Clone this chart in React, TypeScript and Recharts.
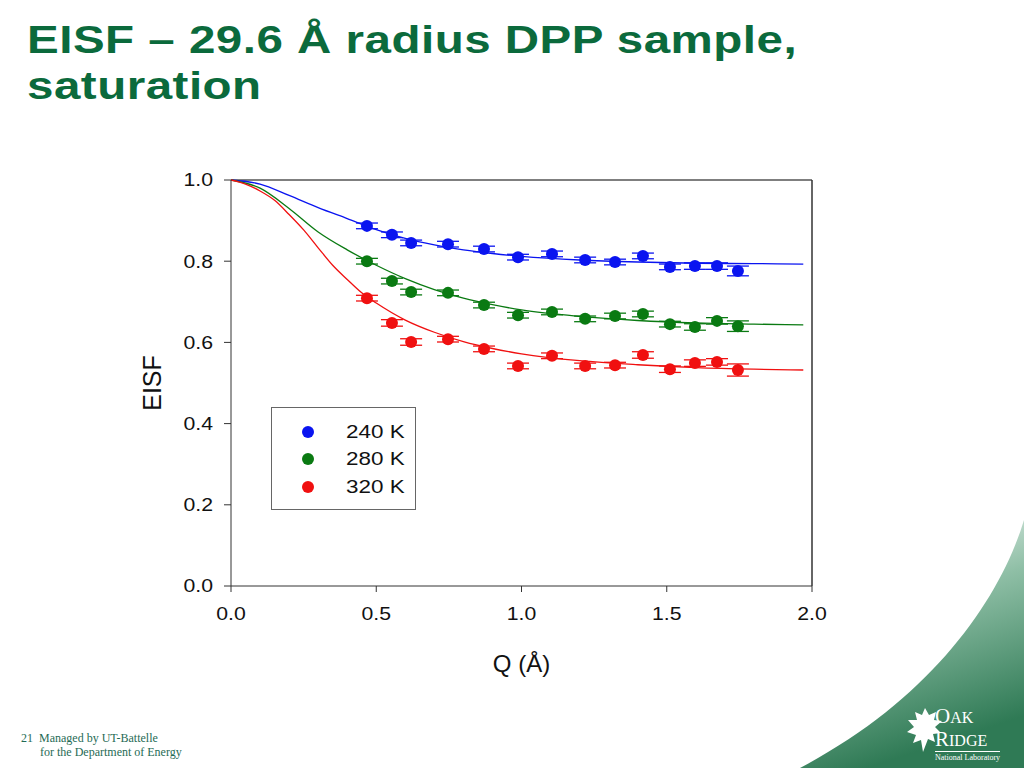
import React from "react";
import {
  ComposedChart,
  Line,
  Scatter,
  XAxis,
  YAxis,
  ErrorBar,
  ReferenceLine,
  Label,
} from "recharts";

const qValues = [0.468, 0.554, 0.62, 0.747, 0.871, 0.988, 1.105, 1.219, 1.322, 1.418, 1.511, 1.597, 1.673, 1.745];

const eisf240 = [0.887, 0.865, 0.845, 0.842, 0.83, 0.81, 0.818, 0.803, 0.798, 0.813, 0.786, 0.788, 0.788, 0.776];
const err240 = [0.007, 0.007, 0.007, 0.007, 0.007, 0.007, 0.007, 0.007, 0.007, 0.007, 0.007, 0.008, 0.008, 0.012];
const eisf280 = [0.8, 0.751, 0.724, 0.722, 0.692, 0.667, 0.675, 0.658, 0.665, 0.67, 0.645, 0.638, 0.653, 0.64];
const err280 = [0.007, 0.007, 0.007, 0.007, 0.007, 0.007, 0.007, 0.007, 0.007, 0.007, 0.007, 0.008, 0.008, 0.013];
const eisf320 = [0.709, 0.648, 0.601, 0.608, 0.584, 0.542, 0.567, 0.542, 0.544, 0.569, 0.534, 0.549, 0.552, 0.532];
const err320 = [0.007, 0.008, 0.008, 0.007, 0.007, 0.007, 0.007, 0.007, 0.007, 0.008, 0.008, 0.008, 0.008, 0.015];

const fitQ240 = [0, 0.1, 0.2, 0.3, 0.4, 0.5, 0.6, 0.7, 0.8, 0.9, 1.0, 1.2, 1.4, 1.6, 1.8, 1.97];
const fit240 = [1.0, 0.99, 0.962, 0.932, 0.905, 0.878, 0.856, 0.84, 0.828, 0.819, 0.812, 0.803, 0.798, 0.795, 0.794, 0.793];
const fitQ280 = [0, 0.1, 0.2, 0.3, 0.4, 0.5, 0.6, 0.7, 0.8, 0.9, 1.0, 1.2, 1.4, 1.6, 1.8, 1.97];
const fit280 = [1.0, 0.98, 0.93, 0.872, 0.828, 0.79, 0.757, 0.73, 0.709, 0.693, 0.68, 0.664, 0.654, 0.648, 0.645, 0.643];
const fitQ320 = [0, 0.05, 0.1, 0.15, 0.2, 0.25, 0.3, 0.35, 0.4, 0.45, 0.5, 0.6, 0.7, 0.8, 0.9, 1.0, 1.2, 1.4, 1.6, 1.8, 1.97];
const fit320 = [1.0, 0.99, 0.973, 0.95, 0.915, 0.877, 0.833, 0.79, 0.755, 0.722, 0.697, 0.655, 0.625, 0.602, 0.585, 0.572, 0.555, 0.545, 0.538, 0.534, 0.532];

const xTicks = [0, 0.5, 1.0, 1.5, 2.0];
const yTicks = [0, 0.2, 0.4, 0.6, 0.8, 1.0];

const seriesNames = ["240 K", "280 K", "320 K"];
const seriesColors = ["#0a14f0", "#0a7a12", "#f01010"];

const toPoints = (xs: number[], ys: number[], es?: number[]) =>
  xs.map((x, i) => ({ q: x, v: ys[i], err: es ? es[i] : 0 }));

const scatterSets = [
  toPoints(qValues, eisf240, err240),
  toPoints(qValues, eisf280, err280),
  toPoints(qValues, eisf320, err320),
];
const fitSets = [
  toPoints(fitQ240, fit240),
  toPoints(fitQ280, fit280),
  toPoints(fitQ320, fit320),
];

const FONT = "Liberation Sans, Arial, sans-serif";
const STRETCH = 1.18;

const XTick = (props: any) => {
  const { x, y, payload } = props;
  return (
    <text
      transform={`translate(${x},${y}) scale(${STRETCH},1)`}
      textAnchor="middle"
      dy="0.71em"
      fontFamily={FONT}
      fontSize={18}
      fill="#111"
    >
      {Number(payload.value).toFixed(1)}
    </text>
  );
};

const YTick = (props: any) => {
  const { x, y, payload } = props;
  return (
    <text
      transform={`translate(${x},${y}) scale(${STRETCH},1)`}
      textAnchor="end"
      dy="0.355em"
      fontFamily={FONT}
      fontSize={18}
      fill="#111"
    >
      {Number(payload.value).toFixed(1)}
    </text>
  );
};

const LegendBox = () => (
  <div
    style={{
      position: "absolute",
      left: 271,
      top: 407,
      width: 145,
      height: 103,
      border: "1.5px solid #666",
      background: "#fff",
      boxSizing: "border-box",
      fontFamily: FONT,
      fontSize: 19,
      color: "#111",
      paddingTop: 10,
    }}
  >
    {seriesNames.map((n, i) => (
      <div key={n} style={{ display: "flex", alignItems: "center", height: 27.5 }}>
        <span
          style={{
            display: "inline-block",
            width: 12,
            height: 12,
            borderRadius: 6,
            background: seriesColors[i],
            marginLeft: 30,
            marginRight: 32,
          }}
        />
        <span style={{ display: "inline-block", transform: `scaleX(${STRETCH})`, transformOrigin: "left center" }}>{n}</span>
      </div>
    ))}
  </div>
);

export default function App() {
  return (
    <div style={{ position: "absolute", left: 0, top: 0, width: 1024, height: 768, background: "#fff", overflow: "hidden" }}>
      <svg width={1024} height={768} style={{ position: "absolute", left: 0, top: 0 }}>
        <defs>
          <linearGradient id="swoosh" x1="0" y1="0" x2="0.3" y2="1">
            <stop offset="0" stopColor="#ffffff" />
            <stop offset="0.45" stopColor="#8fbfa6" />
            <stop offset="1" stopColor="#2f7a55" />
          </linearGradient>
        </defs>
        <path d="M 1024 520 C 1000 600, 930 700, 800 768 L 1024 768 Z" fill="url(#swoosh)" />
      </svg>
      <div
        style={{
          position: "absolute",
          left: 27,
          top: 17,
          fontFamily: FONT,
          fontWeight: "bold",
          fontSize: 38,
          lineHeight: "46px",
          color: "#0b6a3c",
          letterSpacing: 0.4,
          transform: "scaleX(1.25)",
          transformOrigin: "left top",
          whiteSpace: "nowrap",
        }}
      >
        EISF – 29.6 Å radius DPP sample,
        <br />
        saturation
      </div>
      <div style={{ position: "absolute", left: 0, top: 0 }}>
        <ComposedChart
          width={1024}
          height={768}
          margin={{ top: 180, right: 212, bottom: 94, left: 131 }}
        >
          <XAxis
            type="number"
            dataKey="q"
            domain={[0, 2]}
            ticks={xTicks}
            tick={<XTick />}
            stroke="#333"
            tickSize={6}
            tickMargin={15}
            height={88}
            allowDuplicatedCategory={false}
          >
            <Label
              value="Q (Å)"
              position="insideBottom"
              offset={2}
              style={{ fontFamily: FONT, fontSize: 24, fill: "#111" }}
            />
          </XAxis>
          <YAxis
            type="number"
            dataKey="v"
            domain={[0, 1]}
            ticks={yTicks}
            tick={<YTick />}
            stroke="#333"
            tickSize={7}
            tickMargin={11}
            width={100}
          >
            <Label
              value="EISF"
              angle={-90}
              position="insideLeft"
              offset={21}
              style={{ fontFamily: FONT, fontSize: 25, fill: "#111", textAnchor: "middle" }}
            />
          </YAxis>
          <ReferenceLine y={1} stroke="#555" strokeWidth={1.5} />
          <ReferenceLine x={2} stroke="#333" strokeWidth={1.5} />
          {fitSets.map((d, i) => (
            <Line
              key={"fit" + i}
              data={d}
              dataKey="v"
              type="monotone"
              stroke={seriesColors[i]}
              strokeWidth={1.3}
              dot={false}
              activeDot={false}
              legendType="none"
              isAnimationActive={false}
            />
          ))}
          {scatterSets.map((d, i) => (
            <Scatter
              key={"pts" + i}
              name={seriesNames[i]}
              data={d}
              dataKey="v"
              fill={seriesColors[i]}
              shape={(props: any) => <circle cx={props.cx} cy={props.cy} r={6} fill={seriesColors[i]} />}
              isAnimationActive={false}
            >
              <ErrorBar dataKey="err" direction="y" width={11} stroke={seriesColors[i]} strokeWidth={1.3} />
            </Scatter>
          ))}
        </ComposedChart>
      </div>
      <LegendBox />
      <div
        style={{
          position: "absolute",
          left: 21,
          top: 731,
          fontFamily: "Liberation Serif, Times New Roman, serif",
          fontSize: 12,
          lineHeight: "14px",
          color: "#1f6b55",
        }}
      >
        <div>
          21&nbsp;&nbsp;Managed by UT-Battelle
        </div>
        <div style={{ paddingLeft: 19 }}>for the Department of Energy</div>
      </div>
      <div style={{ position: "absolute", left: 935, top: 705, fontFamily: "Liberation Serif, Times New Roman, serif", color: "#fff", whiteSpace: "nowrap" }}>
        <div style={{ fontSize: 21, lineHeight: "22px", height: 22 }}>
          O<span style={{ fontSize: 16 }}>AK</span>
        </div>
        <div style={{ fontSize: 21, lineHeight: "22px", height: 22, marginTop: 1 }}>
          R<span style={{ fontSize: 16 }}>IDGE</span>
        </div>
        <div style={{ fontSize: 8, lineHeight: "10px", borderTop: "1px solid #fff", marginTop: 1, paddingTop: 1 }}>
          National Laboratory
        </div>
      </div>
      <svg width={40} height={48} style={{ position: "absolute", left: 903, top: 706 }}>
        <path
          d="M22 2 L26 9 L33 6 L31 14 L39 15 L32 21 L38 27 L30 28 L32 36 L25 33 L20 46 L18 34 L10 37 L13 29 L4 26 L11 21 L5 14 L14 14 L12 6 L19 9 Z"
          fill="#fff"
        />
      </svg>
    </div>
  );
}
